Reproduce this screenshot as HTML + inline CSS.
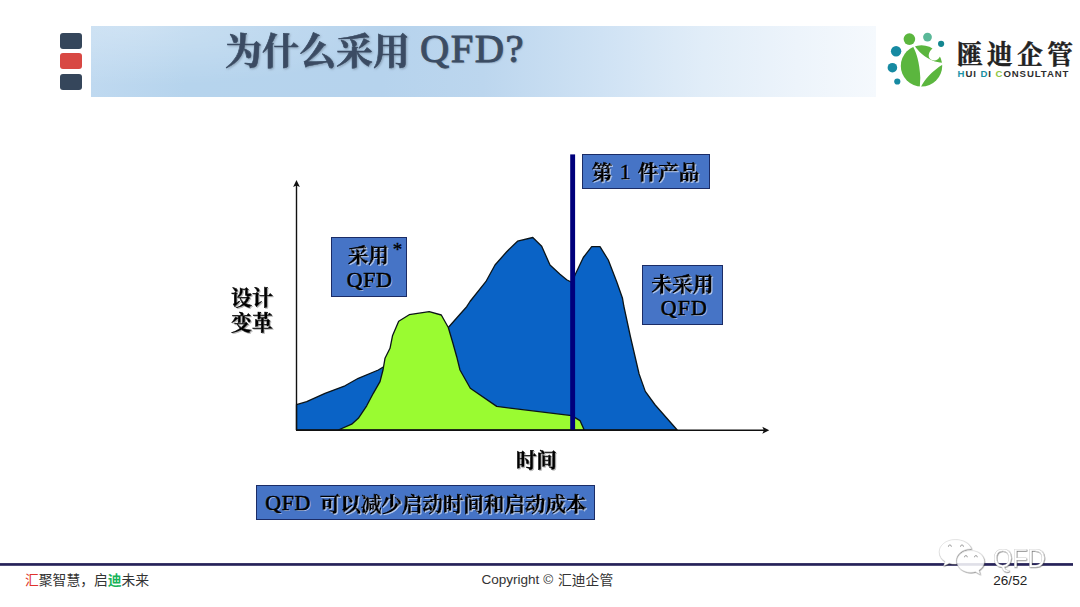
<!DOCTYPE html>
<html><head><meta charset="utf-8"><title>QFD</title>
<style>
html,body{margin:0;padding:0;background:#fff;}
body{width:1080px;height:607px;position:relative;overflow:hidden;font-family:"Liberation Sans",sans-serif;}
.abs{position:absolute;}
.banner{left:91px;top:26px;width:784.5px;height:70.5px;background:radial-gradient(ellipse 260px 60px at 6% 0%,rgba(255,255,255,.28),rgba(255,255,255,0) 100%),linear-gradient(90deg,#bfd9f0 0%,#b6d4ed 12%,#b6d3ed 37%,#bcd6ee 50%,#cfe2f4 65%,#e1edf8 78%,#edf4fb 90%,#f5f9fd 100%);}
.sq{left:60px;width:22px;height:16px;border-radius:3px;background:#35465b;}
.lat{font-family:"Liberation Serif",serif;white-space:nowrap;line-height:1;}
.box{background:#4674c6;border:1.2px solid #1b2c66;box-sizing:border-box;}
.ft{font-size:13.55px;color:#333;white-space:nowrap;line-height:1;}
svg{position:absolute;left:0;top:0;}
</style></head><body>
<div class="abs banner"></div>
<div class="abs sq" style="top:33px"></div>
<div class="abs sq" style="top:53px;height:16.3px;background:#d84843"></div>
<div class="abs sq" style="top:73.5px"></div>

<div class="abs box" style="left:331px;top:237.2px;width:76.2px;height:59.8px"></div>
<div class="abs box" style="left:642.3px;top:265.1px;width:80.6px;height:59.5px"></div>
<div class="abs box" style="left:582.2px;top:154.2px;width:127.4px;height:34.6px"></div>
<div class="abs box" style="left:256.2px;top:485.2px;width:339.3px;height:34.6px"></div>

<svg width="1080" height="607" viewBox="0 0 1080 607">
<defs>
<filter id="ts" x="-5%" y="-20%" width="110%" height="140%"><feDropShadow dx="1" dy="1" stdDeviation="0.8" flood-color="#5f6f86" flood-opacity="0.55"/></filter>
<filter id="ws" x="-5%" y="-20%" width="110%" height="140%"><feDropShadow dx="1" dy="1" stdDeviation="0.35" flood-color="#dfe8fb" flood-opacity="0.7"/></filter>
<filter id="gs" x="-5%" y="-20%" width="110%" height="140%"><feDropShadow dx="1" dy="1" stdDeviation="0.6" flood-color="#888" flood-opacity="0.6"/></filter>
</defs>
<!-- chart -->
<polygon points="296.5,430 296.5,404.7 306.7,401.7 325,393.3 345,385.8 358.3,378.3 378.3,370 448.3,327.5 460,314.2 466.7,306.7 470,301.5 485.8,281.7 495,265 506.7,251.7 517.5,241.2 532.8,237.5 541.7,246.3 550,265 560,274.2 566.7,279.7 572,282.5 575,275 583.3,257.5 591.7,246.7 600,246.7 608.3,260 616.7,281.7 622.5,298.3 623.8,306 630.5,337 639.1,374 645.3,391.4 655.2,405 677.2,430" fill="#0a63c6" stroke="#0b1418" stroke-width="1.3" stroke-linejoin="round"/>
<polygon points="338.3,430 351.7,424.2 358.3,418.3 366.7,405.8 373.3,393.3 380,381.7 383,370 385,358.3 390,348.3 392.5,335.8 398.7,321.3 409.2,314.7 429.2,311.7 441.3,315 448.3,327.5 452.5,341.7 456.7,356.7 460,370 470.3,388.3 496.7,406.4 571.7,415.6 580,420.6 584.2,430" fill="#9afb31" stroke="#0b1418" stroke-width="1.3" stroke-linejoin="round"/>
<rect x="570.2" y="154.4" width="4.9" height="275.6" fill="#00007c"/>
<path d="M296.5 430.2V184" stroke="#111" stroke-width="1.4" fill="none"/>
<path d="M296.5 180l3.4 7l-3.4-1.6l-3.4 1.6z" fill="#111"/>
<path d="M296 430.3H765" stroke="#111" stroke-width="1.5" fill="none"/>
<path d="M769.3 430.3l-7 3.5l1.6-3.5l-1.6-3.5z" fill="#111"/>

<g fill="#3b4c63" stroke="#3b4c63" stroke-width="0.6" filter="url(#ts)" font-family="'Liberation Serif','Noto Serif CJK SC',serif" font-weight="bold"><text x="225" y="64.5" font-size="37">为什么采用</text></g>
<g fill="#000" stroke="#000" stroke-width="0.5" filter="url(#gs)" font-family="'Liberation Serif','Noto Serif CJK SC',serif" font-weight="bold"><text x="231" y="304.8" font-size="21">设计</text><text x="231" y="329.8" font-size="21">变革</text><text x="516" y="467.5" font-size="20.5">时间</text></g>
<g fill="#000" stroke="#000" stroke-width="0.6" filter="url(#ws)" font-family="'Liberation Serif','Noto Serif CJK SC',serif" font-weight="bold"><text x="348" y="263.4" font-size="20.5">采用</text><text x="651.5" y="291.7" font-size="20.7">未采用</text><text x="592" y="180" font-size="20.5">第</text><text x="638" y="180" font-size="20.5">件产品</text><text x="320" y="511.9" font-size="20.5">可以减少启动时间和启动成本</text></g>
<text x="25" y="585" font-size="13.8" fill="#333" font-family="'Liberation Sans','Noto Sans CJK SC',sans-serif"><tspan fill="#e0322c">汇</tspan>聚智慧，启<tspan fill="#19b35a" font-weight="bold">迪</tspan>未来</text>
<text x="558" y="585.3" font-size="13.8" fill="#333" font-family="'Liberation Sans','Noto Sans CJK SC',sans-serif">汇迪企管</text>
<text x="957" y="64" font-size="25.6" font-weight="bold" letter-spacing="4.5" fill="#222" stroke="#222" stroke-width="0.45" font-family="'Liberation Serif','Noto Serif CJK SC',serif">匯迪企管</text>
<!-- logo mark -->
<g>
<circle cx="921.5" cy="65.9" r="20.7" fill="#5bb63e"/>
<path d="M912.9 45.6L913.4 47.3C916.2 52.5 919.6 62 920.3 77.7L919.8 87.2L920.8 87.2C924.2 80 932 71 943.2 64.3L942.4 62.7C936 62.4 929 59.9 921.6 53.7C919 51.2 916.6 48.6 915.1 46.4L914.6 45Z" fill="#fff"/>
<path d="M932.3 48.6C929.3 51.6 927.9 55 929.3 58C931 60.7 935 61.4 937.8 59.3C938.9 58.3 939.5 57.4 939.6 56.7L944 56L937 45Z" fill="#fff"/>
<circle cx="909.4" cy="39.1" r="5.8" fill="#5bb63e"/>
<circle cx="927.5" cy="37.1" r="4.4" fill="#5ab898"/>
<circle cx="941.1" cy="43.8" r="3.1" fill="#138690"/>
<circle cx="896.1" cy="51.3" r="5.2" fill="#168aa2"/>
<circle cx="892.4" cy="67.7" r="4.8" fill="#168aa2"/>
<circle cx="897.3" cy="81.5" r="3.1" fill="#168aa2"/>
</g>
<!-- footer line -->
<rect x="0" y="563.1" width="1073" height="2.7" fill="#262259"/>
</svg>

<div class="abs lat" id="tq" style="left:420px;top:28.9px;font-size:40.5px;color:#3b4c63;-webkit-text-stroke:0.9px #3b4c63;letter-spacing:1.5px;text-shadow:1px 1px 1.5px rgba(95,111,134,.55)">QFD?</div>
<div class="abs lat" id="q1" style="left:346.8px;top:268.9px;font-size:22px;color:#000;-webkit-text-stroke:0.55px #000;text-shadow:1px 1px 0.5px rgba(223,232,251,.7);letter-spacing:0.6px">QFD</div>
<div class="abs lat" id="star" style="left:392.8px;top:240.1px;font-size:19px;color:#000;-webkit-text-stroke:0.3px #000">*</div>
<div class="abs lat" id="q2" style="left:660.8px;top:296.9px;font-size:22px;color:#000;-webkit-text-stroke:0.55px #000;text-shadow:1px 1px 0.5px rgba(223,232,251,.7);letter-spacing:1.1px">QFD</div>
<div class="abs lat" id="one" style="left:619.8px;top:160.5px;font-size:22px;color:#000;-webkit-text-stroke:0.4px #000;text-shadow:1px 1px 0.5px rgba(223,232,251,.7)">1</div>
<div class="abs lat" id="q3" style="left:265.3px;top:491.6px;font-size:22px;color:#000;-webkit-text-stroke:0.55px #000;text-shadow:1px 1px 0.5px rgba(223,232,251,.7);letter-spacing:0.5px">QFD</div>

<div class="abs ft" id="copy" style="left:481.4px;top:572.9px;">Copyright ©</div>
<div class="abs ft" id="pg" style="left:993.3px;top:574px;color:#222">26/52</div>
<div class="abs" id="hui" style="left:957.6px;top:69.2px;font-size:9.6px;font-weight:bold;color:#2e2e2e;letter-spacing:0.92px;white-space:nowrap;line-height:1"><span style="color:#1d94a8">H</span>UI <span style="color:#1a8fa0">D</span>I <span style="color:#8dc63f">C</span>ONSULTANT</div>

<!-- wechat watermark -->
<svg width="1080" height="607" viewBox="0 0 1080 607">
<defs><filter id="wm" x="-10%" y="-10%" width="120%" height="130%"><feDropShadow dx="0.55" dy="0.65" stdDeviation="0.4" flood-color="#333" flood-opacity="0.7"/></filter>
<clipPath id="b2"><path d="M984.300 561.500c0-6-6.100-10.900-13.700-10.900s-13.700 4.900-13.700 10.900s6.100 10.900 13.700 10.900c1.700 0 3.300-0.200 4.800-0.700l4.800 2.800l-1.300-4.300C982.200 568.200 984.300 565.100 984.300 561.500Z"/></clipPath></defs>
<g filter="url(#wm)" fill="#fff" stroke="#b8b8b8" stroke-width="0.3">
<path d="M955.200 539.600c-8.900 0-16 5.500-16 12.300c0 3.900 2.300 7.300 5.900 9.600l-1.500 4.600l5.600-2.900c1.900 0.600 3.900 0.900 6 0.900c0.500 0 1 0 1.500-0.100c-0.300-1-0.500-2.100-0.500-3.200c0-6.600 6.500-11.900 14.500-11.900c0.300 0 0.500 0 0.800 0C969.800 543.700 963.200 539.600 955.200 539.600Z"/>
<path d="M984.300 561.500c0-6-6.100-10.900-13.700-10.900s-13.700 4.900-13.700 10.900s6.100 10.900 13.700 10.900c1.700 0 3.300-0.200 4.800-0.700l4.800 2.800l-1.300-4.300C982.200 568.200 984.300 565.100 984.300 561.500Z"/>
</g>
<rect x="950" y="563.1" width="40" height="2.700" fill="#262259" fill-opacity="0.14" clip-path="url(#b2)"/>
<g fill="none" stroke="#8c8c8c" stroke-width="0.8" stroke-linecap="round"><path d="M948.400 546.400a1.500 1.500 0 0 1 3 0"/><path d="M960.500 546.400a1.500 1.500 0 0 1 3 0"/><path d="M964.500 556.900a1.400 1.400 0 0 1 2.800 0"/><path d="M974.500 556.900a1.400 1.400 0 0 1 2.800 0"/></g>
<text x="993" y="566.95" font-size="24.9" font-family="'Liberation Sans',sans-serif" fill="#fff" stroke="#b8b8b8" stroke-width="0.25" filter="url(#wm)">QFD</text>
</svg>
</body></html>
